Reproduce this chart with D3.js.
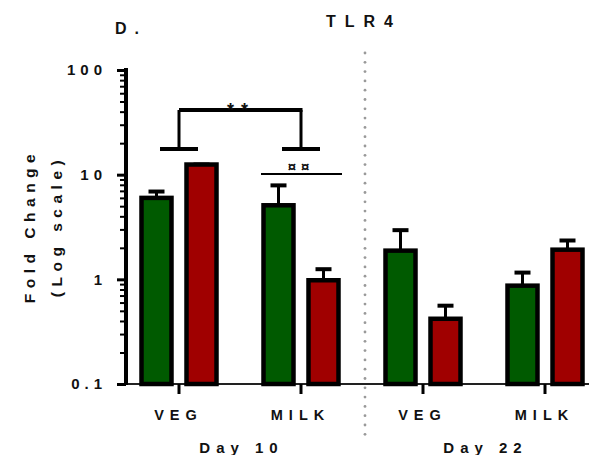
<!DOCTYPE html>
<html>
<head>
<meta charset="utf-8">
<script src="https://cdn.jsdelivr.net/npm/d3@7"></script>
<style>
  body { margin: 0; background: #fff; }
  text { font-family: "Liberation Sans", Arial, sans-serif; font-weight: bold; fill: #111; }
</style>
</head>
<body>
<div id="chart"></div>
<script>

// data
var groups   = ["D10 VEG", "D10 MILK", "D22 VEG", "D22 MILK"];
var groupLbl = ["VEG", "MILK", "VEG", "MILK"];
var greenVal = [6.0, 5.1, 1.88, 0.87];
var greenErr = [6.9, 7.9, 2.95, 1.16];
var redVal   = [12.5, 0.98, 0.42, 1.92];
var redErr   = [12.5, 1.25, 0.56, 2.35];
var yTicks   = [0.1, 1, 10, 100];
var yTickLbl = ["0.1", "1", "10", "100"];
var days     = ["Day 10", "Day 22"];

var W = 589, H = 455;

var svg = d3.select("#chart").append("svg")
  .attr("width", W).attr("height", H);

var x = d3.scalePoint().domain(groups).range([179, 545]);
var y = d3.scaleLog().domain([0.1, 100]).range([384, 70]);

var off = 22.5, barW = 30;

// minor + major log ticks
var allTicks = [];
[0.1, 1, 10].forEach(function (dec) {
  for (var k = 1; k < 10; k++) allTicks.push(+(dec * k).toPrecision(3));
});
allTicks.push(100);

// divider between days
var dotsY = d3.range(53, 436, 9.3);
svg.selectAll(".divdot")
  .data(dotsY)
  .enter().append("circle")
  .attr("class", "divdot")
  .attr("cx", 365)
  .attr("cy", function (d) { return d; })
  .attr("r", 1.4)
  .attr("fill", "#999");

// x axis baseline
svg.append("line")
  .attr("x1", 118).attr("x2", 589)
  .attr("y1", 384).attr("y2", 384)
  .attr("stroke", "#222").attr("stroke-width", 2);

svg.selectAll(".xtick")
  .data(groups)
  .enter().append("line")
  .attr("class", "xtick")
  .attr("x1", function (d) { return x(d); })
  .attr("x2", function (d) { return x(d); })
  .attr("y1", 384).attr("y2", 394)
  .attr("stroke", "#000").attr("stroke-width", 3);

svg.selectAll(".xlbl")
  .data(groups)
  .enter().append("text")
  .attr("class", "xlbl")
  .attr("x", function (d) { return x(d) - 0.5; })
  .attr("y", 419.5)
  .attr("text-anchor", "middle")
  .attr("font-size", 14.5)
  .attr("letter-spacing", "6px")
  .text(function (d, i) { return groupLbl[i]; });

svg.selectAll(".daylbl")
  .data(days)
  .enter().append("text")
  .attr("class", "daylbl")
  .attr("x", function (d, i) { return (x(groups[2 * i]) + x(groups[2 * i + 1])) / 2 + 1.5; })
  .attr("y", 452.5)
  .attr("text-anchor", "middle")
  .attr("font-size", 15)
  .attr("letter-spacing", "6px")
  .text(function (d) { return d; });

// bars
function drawBars(vals, errs, dx, color) {
  var g = svg.append("g");
  g.selectAll("line.stem")
    .data(groups)
    .enter().append("line")
    .attr("x1", function (d) { return x(d) + dx; })
    .attr("x2", function (d) { return x(d) + dx; })
    .attr("y1", function (d, i) { return y(vals[i]); })
    .attr("y2", function (d, i) { return y(errs[i]); })
    .attr("stroke", "#000").attr("stroke-width", 3);
  g.selectAll("line.cap")
    .data(groups)
    .enter().append("line")
    .attr("x1", function (d) { return x(d) + dx - 8; })
    .attr("x2", function (d) { return x(d) + dx + 8; })
    .attr("y1", function (d, i) { return y(errs[i]); })
    .attr("y2", function (d, i) { return y(errs[i]); })
    .attr("stroke", "#000").attr("stroke-width", 4);
  g.selectAll("rect")
    .data(groups)
    .enter().append("rect")
    .attr("x", function (d) { return x(d) + dx - barW / 2; })
    .attr("width", barW)
    .attr("y", function (d, i) { return y(vals[i]); })
    .attr("height", function (d, i) { return y(0.1) - y(vals[i]); })
    .attr("fill", color)
    .attr("stroke", "#000")
    .attr("stroke-width", 4.5);
}
drawBars(greenVal, greenErr, -off, "#005a00");
drawBars(redVal, redErr, off, "#a00000");

// y axis
var yAxis = d3.axisLeft(y)
  .tickValues(allTicks)
  .tickSize(6)
  .tickSizeOuter(0)
  .tickPadding(13)
  .tickFormat(function (d) {
    var i = yTicks.indexOf(d);
    return i < 0 ? "" : yTickLbl[i];
  });

var ya = svg.append("g")
  .attr("transform", "translate(126,0)")
  .call(yAxis);
ya.select(".domain").attr("stroke", "#000").attr("stroke-width", 4)
  .attr("d", "M0," + (y(100) - 2) + "V" + (y(0.1) + 1));
ya.selectAll(".tick line").attr("stroke", "#000").attr("stroke-width", 2);
ya.selectAll(".tick")
  .filter(function (d) { return yTicks.indexOf(d) >= 0; })
  .select("line").attr("x2", -9).attr("stroke-width", 3);
ya.selectAll(".tick text")
  .attr("font-size", 15)
  .attr("letter-spacing", "5px")
  .attr("font-family", "Liberation Sans, Arial, sans-serif")
  .attr("font-weight", "bold")
  .attr("fill", "#111");

// y title
var yt = svg.append("g").attr("transform", "translate(0,226) rotate(-90)");
yt.append("text").attr("x", 0).attr("y", 35).attr("text-anchor", "middle")
  .attr("font-size", 15.5).attr("letter-spacing", "5.5px").text("Fold Change");
yt.append("text").attr("x", 0).attr("y", 62).attr("text-anchor", "middle")
  .attr("font-size", 15.5).attr("letter-spacing", "5.5px").text("(Log scale)");

// titles
svg.append("text").attr("x", 364).attr("y", 27).attr("text-anchor", "middle")
  .attr("font-size", 16).attr("letter-spacing", "9px").text("TLR4");
svg.append("text").attr("x", 115).attr("y", 34)
  .attr("font-size", 16).attr("letter-spacing", "8px").text("D.");

// significance bracket (**)
var bTop = 110, bCap = 149;
var sig = svg.append("g").attr("stroke", "#000");
sig.append("line").attr("x1", x(groups[0])).attr("x2", x(groups[1]) + 1.5)
  .attr("y1", bTop).attr("y2", bTop).attr("stroke-width", 4);
[0, 1].forEach(function (i) {
  var cx = x(groups[i]);
  sig.append("line").attr("x1", cx).attr("x2", cx)
    .attr("y1", bTop).attr("y2", bCap).attr("stroke-width", 3);
  sig.append("line").attr("x1", cx - 19).attr("x2", cx + 19)
    .attr("y1", bCap).attr("y2", bCap).attr("stroke-width", 4);
});
svg.append("text").attr("x", 241).attr("y", 116).attr("text-anchor", "middle")
  .attr("font-size", 18).attr("letter-spacing", "7px").text("**");

// ¤¤ line
svg.append("line").attr("x1", 261).attr("x2", 342)
  .attr("y1", 174).attr("y2", 174)
  .attr("stroke", "#000").attr("stroke-width", 2);
svg.append("text").attr("x", 301).attr("y", 172).attr("text-anchor", "middle")
  .attr("font-size", 15).attr("letter-spacing", "5px").text("¤¤");

</script>
</body>
</html>
